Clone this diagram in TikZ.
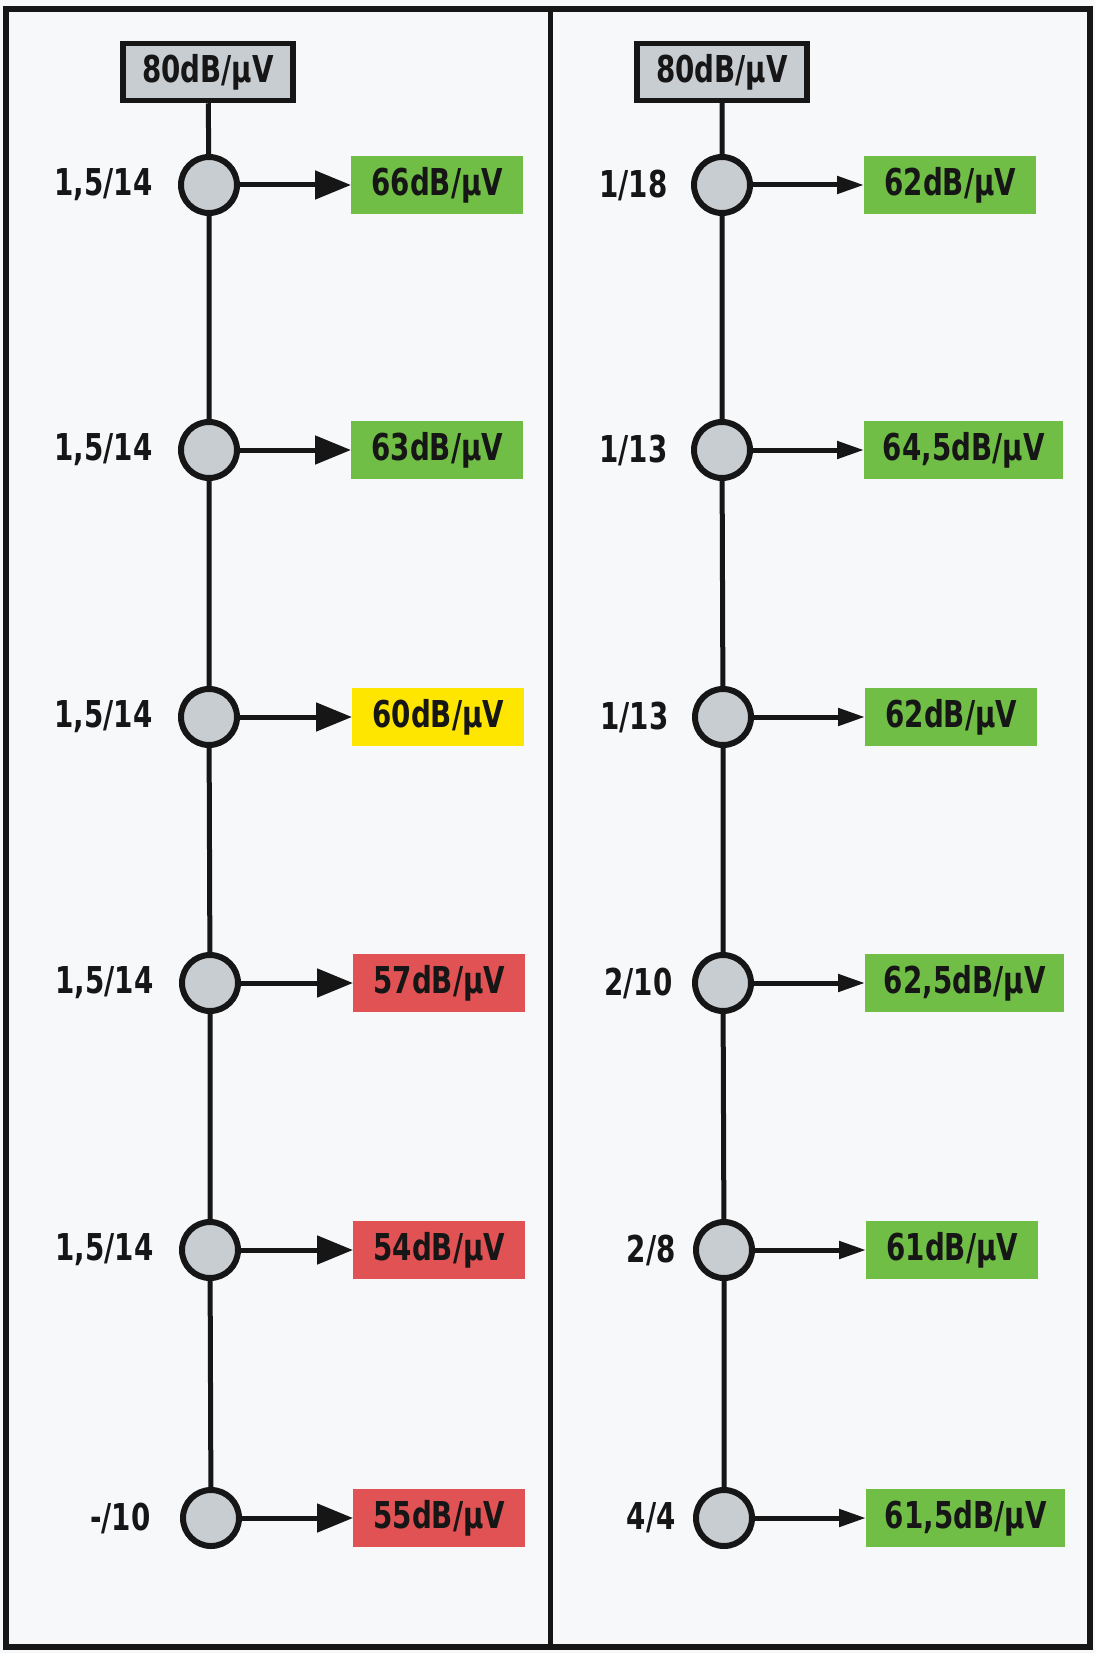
\documentclass[tikz,border=0pt]{standalone}
\usepackage{fontspec}
\usetikzlibrary{arrows.meta}
\newfontfamily\lblfont{DejaVu Sans}[FakeStretch=0.75]
\definecolor{paper}{RGB}{247,248,250}
\definecolor{ink}{RGB}{22,22,22}
\definecolor{knob}{RGB}{200,205,210}
\definecolor{okgreen}{RGB}{112,190,70}
\definecolor{warnyellow}{RGB}{255,230,0}
\definecolor{badred}{RGB}{224,82,84}
\begin{document}
\begin{tikzpicture}[x=1pt,y=-1pt,
  txt/.style={font=\lblfont\bfseries\fontsize{37}{40}\selectfont, text=ink},
  source/.style={txt, draw=ink, line width=5.5pt, fill=knob, minimum width=170pt, minimum height=57pt, inner sep=0pt},
  tap/.style={circle, draw=ink, line width=6pt, fill=knob, minimum size=56pt, inner sep=0pt},
  level/.style={txt, anchor=west, minimum height=58pt, minimum width=172pt, inner sep=0pt},
  wide/.style={minimum width=199pt},
  good/.style={level, fill=okgreen},
  fair/.style={level, fill=warnyellow},
  poor/.style={level, fill=badred},
  loss/.style={txt, anchor=east},
  trunk/.style={draw=ink, line width=5pt},
  bigfeed/.style={draw=ink, line width=5pt, -{Triangle[length=36pt,width=28pt]}},
  feed/.style={draw=ink, line width=5pt, -{Triangle[length=27pt,width=17pt]}}
]
\useasboundingbox (0,0) rectangle (1095,1653);
\fill[paper] (0,0) rectangle (1095,1653);

% frame and divider
\draw[ink, line width=5.5pt] (6,9) rectangle (1090,1647);
\draw[ink, line width=5pt] (550,9) -- (550,1647);

% ---------- left chain ----------
\node[source] (Ls) at (208,72) {80dB/µV};
\node[tap] (L1) at (209,185) {};
\node[tap] (L2) at (209,450) {};
\node[tap] (L3) at (209,717) {};
\node[tap] (L4) at (210,983) {};
\node[tap] (L5) at (210,1250) {};
\node[tap] (L6) at (211,1518) {};

\node[good] (Lo1) at (351,185) {66dB/µV};
\node[good] (Lo2) at (351,450) {63dB/µV};
\node[fair] (Lo3) at (352,717) {60dB/µV};
\node[poor] (Lo4) at (353,983) {57dB/µV};
\node[poor] (Lo5) at (353,1250) {54dB/µV};
\node[poor] (Lo6) at (353,1518) {55dB/µV};

\node[loss] (Ll1) at ([xshift=-22pt]L1.west) {1,5/14};
\node[loss] (Ll2) at ([xshift=-22pt]L2.west) {1,5/14};
\node[loss] (Ll3) at ([xshift=-22pt]L3.west) {1,5/14};
\node[loss] (Ll4) at ([xshift=-22pt]L4.west) {1,5/14};
\node[loss] (Ll5) at ([xshift=-22pt]L5.west) {1,5/14};
\node[loss] (Ll6) at ([xshift=-26pt]L6.west) {-/10};

% ---------- right chain ----------
\node[source] (Rs) at (722,72) {80dB/µV};
\node[tap] (R1) at (722,185) {};
\node[tap] (R2) at (722,450) {};
\node[tap] (R3) at (723,717) {};
\node[tap] (R4) at (723,983) {};
\node[tap] (R5) at (724,1250) {};
\node[tap] (R6) at (724,1518) {};

\node[good] (Ro1) at (864,185) {62dB/µV};
\node[good, wide] (Ro2) at (864,450) {64,5dB/µV};
\node[good] (Ro3) at (865,717) {62dB/µV};
\node[good, wide] (Ro4) at (865,983) {62,5dB/µV};
\node[good] (Ro5) at (866,1250) {61dB/µV};
\node[good, wide] (Ro6) at (866,1518) {61,5dB/µV};

\node[loss] (Rl1) at ([xshift=-20pt]R1.west) {1/18};
\node[loss] (Rl2) at ([xshift=-20pt]R2.west) {1/13};
\node[loss] (Rl3) at ([xshift=-20pt]R3.west) {1/13};
\node[loss] (Rl4) at ([xshift=-16pt]R4.west) {2/10};
\node[loss] (Rl5) at ([xshift=-14pt]R5.west) {2/8};
\node[loss] (Rl6) at ([xshift=-14pt]R6.west) {4/4};

% trunks linking source and taps
\path[trunk] (Ls) -- (L1) -- (L2) -- (L3) -- (L4) -- (L5) -- (L6);
\path[trunk] (Rs) -- (R1) -- (R2) -- (R3) -- (R4) -- (R5) -- (R6);

% outlet feeds
\foreach \i in {1,...,6}{
  \draw[bigfeed] (L\i.east) -- (Lo\i.west);
  \draw[feed] (R\i.east) -- (Ro\i.west);
}
\end{tikzpicture}
\end{document}
